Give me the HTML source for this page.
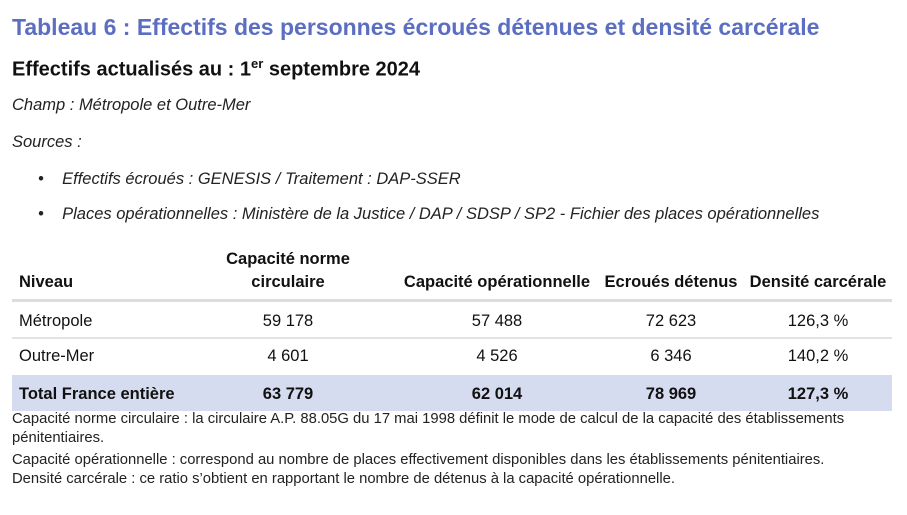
<!DOCTYPE html>
<html><head><meta charset="utf-8"><style>
body{margin:0;width:907px;height:515px;background:#fff;font-family:"Liberation Sans",sans-serif;color:#111;position:relative;overflow:hidden}
.a{position:absolute;white-space:nowrap}
.t{left:12px;top:14px;font-size:23px;font-weight:bold;color:#5b6ec2}
.s{left:12px;top:56px;font-size:20px;font-weight:bold}
.i{font-style:italic;font-size:16.5px;color:#222}
.f{left:12px;font-size:14.8px;color:#222}
.c{position:absolute;font-size:16.5px;line-height:20px;white-space:nowrap;transform:translateX(-50%);text-align:center}
.l{position:absolute;font-size:16.5px;line-height:20px;white-space:nowrap;left:19px}
.b{font-weight:bold}
.hr{position:absolute;left:12px;width:880px}
</style></head><body>
<div class="a t">Tableau 6 : Effectifs des personnes écroués détenues et densité carcérale</div>
<div class="a s">Effectifs actualisés au : 1<sup style="font-size:13px">er</sup> septembre 2024</div>
<div class="a i" style="left:12px;top:96px">Champ : Métropole et Outre-Mer</div>
<div class="a i" style="left:12px;top:133px">Sources :</div>
<div class="a i" style="left:38px;top:170px">•&nbsp;&nbsp;&nbsp;&nbsp;Effectifs écroués : GENESIS / Traitement : DAP-SSER</div>
<div class="a i" style="left:38px;top:205px">•&nbsp;&nbsp;&nbsp;&nbsp;Places opérationnelles : Ministère de la Justice / DAP / SDSP / SP2 - Fichier des places opérationnelles</div>

<div class="hr" style="top:375px;height:36px;background:#d6dcef"></div>
<div class="hr" style="top:299px;height:3px;background:#ddd"></div>
<div class="hr" style="top:337px;height:2px;background:#e3e3e3"></div>

<div class="l b" style="top:272px">Niveau</div>
<div class="c b" style="left:288px;top:249px">Capacité norme</div>
<div class="c b" style="left:288px;top:272px">circulaire</div>
<div class="c b" style="left:497px;top:272px">Capacité opérationnelle</div>
<div class="c b" style="left:671px;top:272px">Ecroués détenus</div>
<div class="c b" style="left:818px;top:272px">Densité carcérale</div>

<div class="l" style="top:311px">Métropole</div>
<div class="c" style="left:288px;top:311px">59 178</div>
<div class="c" style="left:497px;top:311px">57 488</div>
<div class="c" style="left:671px;top:311px">72 623</div>
<div class="c" style="left:818px;top:311px">126,3 %</div>

<div class="l" style="top:346px">Outre-Mer</div>
<div class="c" style="left:288px;top:346px">4 601</div>
<div class="c" style="left:497px;top:346px">4 526</div>
<div class="c" style="left:671px;top:346px">6 346</div>
<div class="c" style="left:818px;top:346px">140,2 %</div>

<div class="l b" style="top:384px">Total France entière</div>
<div class="c b" style="left:288px;top:384px">63 779</div>
<div class="c b" style="left:497px;top:384px">62 014</div>
<div class="c b" style="left:671px;top:384px">78 969</div>
<div class="c b" style="left:818px;top:384px">127,3 %</div>

<div class="a f" style="top:411px">Capacité norme circulaire : la circulaire A.P. 88.05G du 17 mai 1998 définit le mode de calcul de la capacité des établissements</div>
<div class="a f" style="top:430px">pénitentiaires.</div>
<div class="a f" style="top:452px">Capacité opérationnelle : correspond au nombre de places effectivement disponibles dans les établissements pénitentiaires.</div>
<div class="a f" style="top:471px">Densité carcérale : ce ratio s’obtient en rapportant le nombre de détenus à la capacité opérationnelle.</div>
</body></html>
